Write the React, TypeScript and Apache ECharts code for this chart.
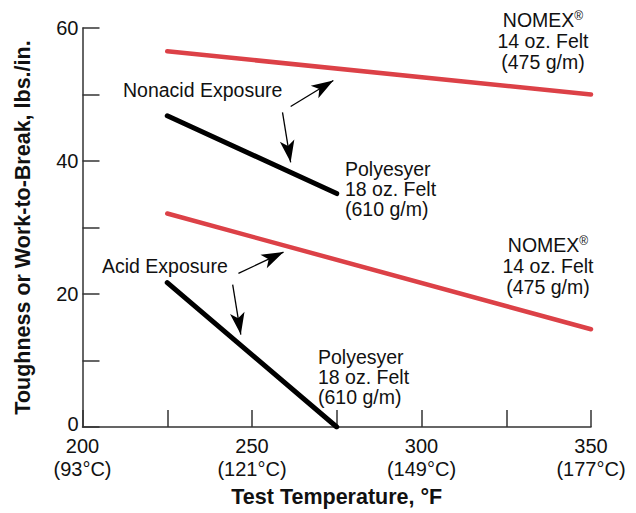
import React, { useEffect, useRef } from "react";
import * as echarts from "echarts";

// ---- data ----
const xTicksF = [200, 250, 300, 350];
const xTicksC = [93, 121, 149, 177];

const nomexNonacidX = [225, 350];
const nomexNonacidY = [56.5, 50.0];
const polyNonacidX = [225, 275];
const polyNonacidY = [46.8, 35.1];
const nomexAcidX = [225, 350];
const nomexAcidY = [32.1, 14.7];
const polyAcidX = [225, 275];
const polyAcidY = [21.7, 0];

// arrows: [fromX, fromY, toX, toY]
const arrowsNonacid = [
  [261.4, 48.2, 274.0, 52.1],
  [259.0, 47.3, 261.4, 39.8],
];
const arrowsAcid = [
  [246.0, 23.1, 259.3, 26.3],
  [244.3, 21.4, 246.7, 13.9],
];

const FONT = "'Liberation Sans', Arial, sans-serif";
const RED = "#dc4147";

function pairs(xs: number[], ys: number[]) {
  return xs.map((x, i) => [x, ys[i]]);
}

function arrowData(arr: number[][]) {
  return arr.map((a) => [
    { coord: [a[0], a[1]], symbol: "none" },
    { coord: [a[2], a[3]], symbol: "arrow", symbolSize: [11, 22] },
  ]);
}

export default function App() {
  const ref = useRef<HTMLDivElement>(null);
  useEffect(() => {
    const chart = echarts.init(ref.current!, undefined, { renderer: "svg" });
    const txt = (x: number, y: number, text: string, align: string, lh: number) => ({
      type: "text",
      x,
      y,
      silent: true,
      style: {
        text,
        fill: "#111",
        fontSize: 19.5,
        fontFamily: FONT,
        align,
        verticalAlign: "top",
        lineHeight: lh,
      },
    });
    const nomexLabel = (x: number, y: number) => ({
      type: "text",
      x,
      y,
      silent: true,
      style: {
        text: "{a|NOMEX}{s|®}\n{a|14 oz. Felt}\n{a|(475 g/m)}",
        align: "center",
        verticalAlign: "top",
        rich: {
          a: { fontFamily: FONT, fontSize: 19.5, lineHeight: 21, fill: "#111" },
          s: { fontFamily: FONT, fontSize: 12, lineHeight: 21, fill: "#111", padding: [0, 0, 7, 0] },
        },
      },
    });
    const lineSeries = (name: string, data: number[][], color: string, width: number, extra: any = {}) => ({
      type: "line",
      name,
      data,
      symbol: "none",
      silent: true,
      lineStyle: { color, width, cap: "round" },
      ...extra,
    });
    const markArrows = (arr: number[][]) => ({
      markLine: {
        silent: true,
        symbol: ["none", "arrow"],
        label: { show: false },
        lineStyle: { color: "#000", width: 1.3, type: "solid" },
        itemStyle: { color: "#000" },
        emphasis: { disabled: true },
        data: arrowData(arr),
      },
    });
    chart.setOption({
      animation: false,
      grid: { left: 82.5, right: 45, top: 28, bottom: 83 },
      xAxis: {
        type: "value",
        min: 200,
        max: 350,
        interval: 25,
        name: "Test Temperature, °F",
        nameLocation: "middle",
        nameGap: 59,
        nameTextStyle: { fontFamily: FONT, fontSize: 21.5, fontWeight: "bold", color: "#111" },
        axisLine: { lineStyle: { color: "#333", width: 1.5 } },
        axisTick: { inside: true, length: 17, lineStyle: { color: "#333", width: 1.5 } },
        splitLine: { show: false },
        axisLabel: {
          fontFamily: FONT,
          fontSize: 20,
          color: "#111",
          lineHeight: 23,
          margin: 7,
          formatter: (v: number) => {
            const i = xTicksF.indexOf(v);
            return i >= 0 ? `${v}\n(${xTicksC[i]}°C)` : "";
          },
        },
      },
      yAxis: {
        type: "value",
        min: 0,
        max: 60,
        interval: 10,
        name: "Toughness or Work-to-Break, lbs./in.",
        nameLocation: "middle",
        nameGap: 49,
        nameTextStyle: { fontFamily: FONT, fontSize: 21.5, fontWeight: "bold", color: "#111" },
        axisLine: { show: true, lineStyle: { color: "#333", width: 1.5 } },
        axisTick: { show: true, inside: true, length: 17, lineStyle: { color: "#333", width: 1.5 } },
        splitLine: { show: false },
        axisLabel: {
          fontFamily: FONT,
          fontSize: 20,
          color: "#111",
          margin: 4,
          formatter: (v: number) => (v === 0 ? "{z|0}" : v % 20 === 0 ? String(v) : ""),
          rich: {
            z: { fontFamily: FONT, fontSize: 20, color: "#111", padding: [0, 0, 6, 0] },
          },
        },
      },
      series: [
        lineSeries("NOMEX nonacid", pairs(nomexNonacidX, nomexNonacidY), RED, 4.5),
        lineSeries("Polyester nonacid", pairs(polyNonacidX, polyNonacidY), "#000", 5, markArrows(arrowsNonacid)),
        lineSeries("NOMEX acid", pairs(nomexAcidX, nomexAcidY), RED, 4.5),
        lineSeries("Polyester acid", pairs(polyAcidX, polyAcidY), "#000", 5, markArrows(arrowsAcid)),
      ],
      graphic: [
        txt(123, 80, "Nonacid Exposure", "left", 20),
        txt(102, 256, "Acid Exposure", "left", 20),
        nomexLabel(543, 9),
        txt(345, 159, "Polyesyer\n18 oz. Felt\n(610 g/m)", "left", 20),
        nomexLabel(548, 234),
        txt(318, 347, "Polyesyer\n18 oz. Felt\n(610 g/m)", "left", 20),
      ],
    });
    return () => chart.dispose();
  }, []);
  return (
    <div
      ref={ref}
      style={{ position: "fixed", left: 0, top: 0, width: 636, height: 513, background: "#fff" }}
    />
  );
}
